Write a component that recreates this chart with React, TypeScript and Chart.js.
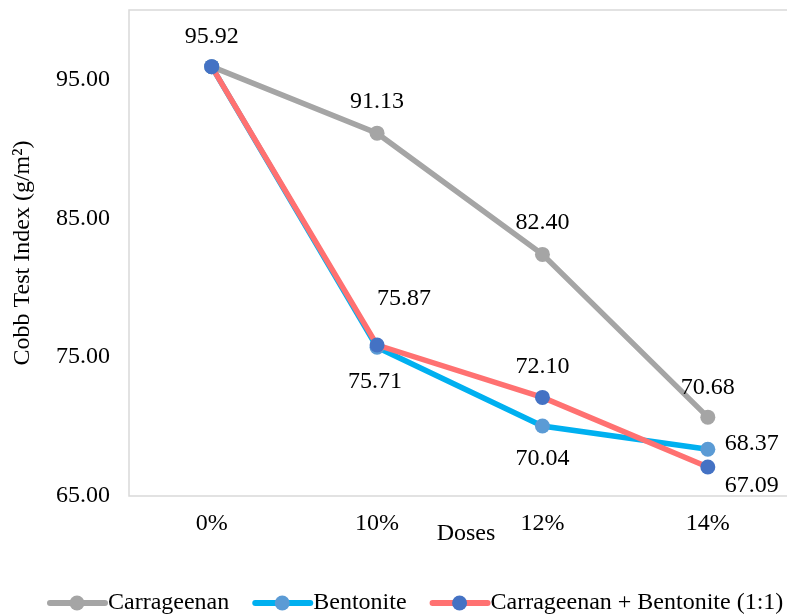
import React, { useEffect, useRef } from "react";
import { Chart, registerables } from "chart.js";

Chart.register(...registerables);

const doses = ["0%", "10%", "12%", "14%"];
const carrageenan = [95.92, 91.13, 82.4, 70.68];
const bentonite = [95.92, 75.71, 70.04, 68.37];
const carrageenanBentonite = [95.92, 75.87, 72.1, 67.09];
const yTickValues = [65, 75, 85, 95];

const FONT = "'Liberation Serif', 'Times New Roman', serif";

// Value-label offsets (dx, dy) from each point; null = no label
const labelOffsets: Record<number, ([number, number] | null)[]> = {
  0: [[0, -30], [0, -31], [0, -32], [0, -29]],
  1: [null, [-2, 34], [0, 33], [44, -6]],
  2: [null, [27, -46], [0, -31], [44, 19]],
};

const legendItems = [
  { text: "Carrageenan", line: "#A5A5A5", dot: "#A5A5A5" },
  { text: "Bentonite", line: "#00B0F0", dot: "#5B9BD5" },
  { text: "Carrageenan + Bentonite (1:1)", line: "#FF7171", dot: "#4472C4" },
];

const framePlugin = {
  id: "frame",
  beforeDatasetsDraw(chart: any) {
    const { ctx, chartArea } = chart;
    ctx.save();
    ctx.strokeStyle = "#D9D9D9";
    ctx.lineWidth = 1.5;
    ctx.strokeRect(chartArea.left, chartArea.top, chartArea.right - chartArea.left, chartArea.bottom - chartArea.top);
    ctx.restore();
  },
};

const valueLabelPlugin = {
  id: "valueLabels",
  afterDatasetsDraw(chart: any) {
    const { ctx } = chart;
    ctx.save();
    ctx.font = `24px ${FONT}`;
    ctx.fillStyle = "#000";
    ctx.textAlign = "center";
    ctx.textBaseline = "middle";
    chart.data.datasets.forEach((ds: any, di: number) => {
      const meta = chart.getDatasetMeta(di);
      meta.data.forEach((pt: any, i: number) => {
        const off = labelOffsets[di]?.[i];
        if (!off) return;
        ctx.fillText((ds.data[i] as number).toFixed(2), pt.x + off[0], pt.y + off[1]);
      });
    });
    ctx.restore();
  },
};

const legendPlugin = {
  id: "lineLegend",
  afterDraw(chart: any) {
    const { ctx } = chart;
    ctx.save();
    ctx.font = `24px ${FONT}`;
    ctx.textBaseline = "middle";
    const y = 603;
    let x = 50;
    legendItems.forEach((it) => {
      ctx.strokeStyle = it.line;
      ctx.lineWidth = 6;
      ctx.lineCap = "round";
      ctx.beginPath();
      ctx.moveTo(x, y);
      ctx.lineTo(x + 55, y);
      ctx.stroke();
      ctx.fillStyle = it.dot;
      ctx.beginPath();
      ctx.arc(x + 27, y, 7.5, 0, Math.PI * 2);
      ctx.fill();
      ctx.fillStyle = "#000";
      ctx.textAlign = "left";
      ctx.fillText(it.text, x + 58, y);
      x += 58 + ctx.measureText(it.text).width + 26;
    });
    // x-axis title
    ctx.textAlign = "center";
    ctx.fillText("Doses", 466, 534);
    ctx.restore();
  },
};

export default function App() {
  const ref = useRef<HTMLCanvasElement>(null);

  useEffect(() => {
    document.body.style.margin = "0";
    const mk = (label: string, data: number[], line: string, dot: string, order: number) => ({
      label,
      data,
      borderColor: line,
      backgroundColor: dot,
      pointBackgroundColor: dot,
      pointBorderColor: dot,
      borderWidth: 5.5,
      pointRadius: 7.5,
      pointBorderWidth: 0,
      tension: 0,
      order,
    });
    const chart = new Chart(ref.current!, {
      type: "line",
      data: {
        labels: doses,
        datasets: [
          mk("Carrageenan", carrageenan, "#A5A5A5", "#A5A5A5", 2),
          mk("Bentonite", bentonite, "#00B0F0", "#5B9BD5", 1),
          mk("Carrageenan + Bentonite (1:1)", carrageenanBentonite, "#FF7171", "#4472C4", 0),
        ],
      },
      options: {
        responsive: false,
        animation: false,
        layout: { padding: { top: 10, right: 0, bottom: 0, left: 0 } },
        plugins: { legend: { display: false }, tooltip: { enabled: false } },
        scales: {
          x: {
            offset: true,
            grid: { display: false, drawTicks: false },
            border: { display: false },
            ticks: { color: "#000", font: { family: FONT, size: 24 }, padding: 13 },
            afterFit: (s: any) => {
              s.height = 118;
              s.paddingLeft = 0;
              s.paddingRight = 0;
            },
          },
          y: {
            min: 65,
            max: 100,
            grid: { display: false, drawTicks: false },
            border: { display: false },
            ticks: {
              color: "#000",
              font: { family: FONT, size: 24 },
              padding: 19,
              callback: (v: any) => Number(v).toFixed(2),
            },
            afterBuildTicks: (s: any) => {
              s.ticks = yTickValues.map((v) => ({ value: v }));
            },
            title: {
              display: true,
              text: "Cobb Test Index (g/m²)",
              color: "#000",
              font: { family: FONT, size: 24 },
              padding: { top: 8, bottom: 0 },
            },
            afterFit: (s: any) => {
              s.width = 129;
              s.paddingTop = 0;
              s.paddingBottom = 0;
            },
          },
        },
      },
      plugins: [framePlugin, valueLabelPlugin, legendPlugin],
    });
    return () => chart.destroy();
  }, []);

  return (
    <div style={{ position: "absolute", left: 0, top: 0, width: 787, height: 614, overflow: "hidden", background: "#fff" }}>
      <canvas ref={ref} width={798} height={614} style={{ width: 798, height: 614, display: "block" }} />
    </div>
  );
}
